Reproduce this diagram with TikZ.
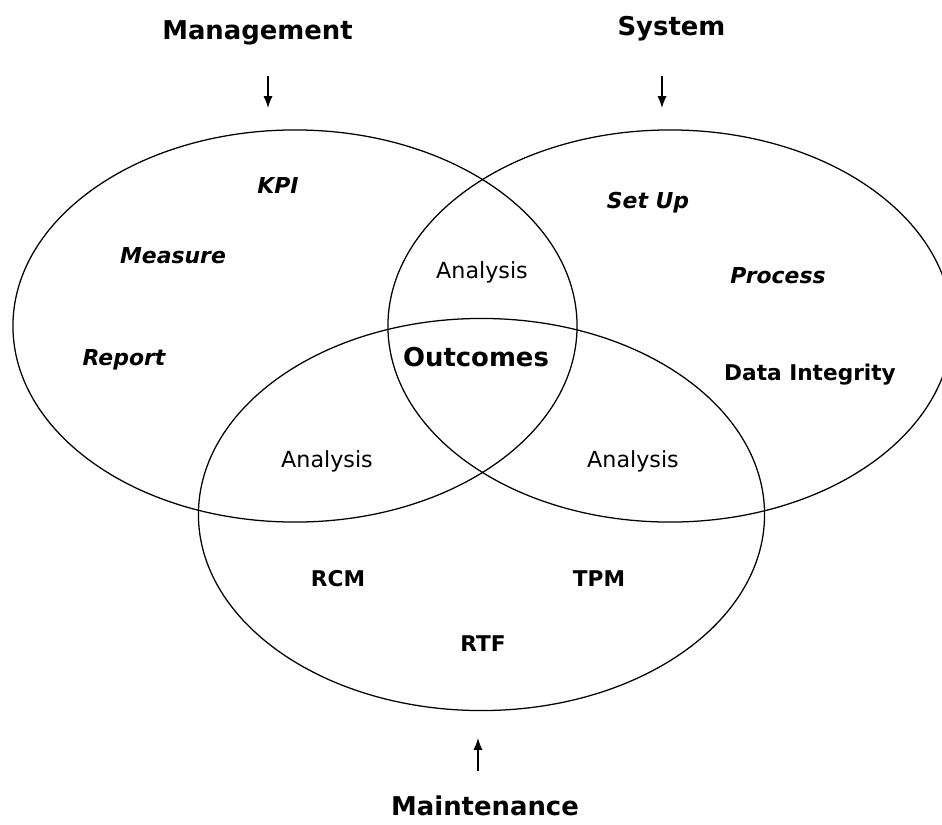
\documentclass[tikz,border=0pt]{standalone}
\usepackage{fontspec}
\setmainfont{DejaVu Sans}
\usetikzlibrary{shapes.geometric,arrows.meta}

\begin{document}
\begin{tikzpicture}[
  x=0.025cm, y=-0.025cm,
  set/.style={ellipse, draw, line width=0.9pt, minimum width=14.1cm, minimum height=9.8cm, inner sep=0pt},
  head/.style={font=\fontsize{18.4}{22}\selectfont\bfseries, anchor=base, inner sep=0pt},
  item/.style={font=\fontsize{15.6}{19}\selectfont\bfseries\itshape, anchor=base, inner sep=0pt},
  tool/.style={font=\fontsize{15.4}{19}\selectfont\bfseries, anchor=base, inner sep=0pt},
  overlap/.style={font=\fontsize{15.8}{19}\selectfont, anchor=base, inner sep=0pt},
  arrow/.style={-{Latex[length=8.5pt,width=6.5pt]}, line width=0.9pt}
]
  \useasboundingbox (0,0) rectangle (942,824);

  % the three sets
  \node[set] (mgmtset) at (295,326) {};
  \node[set] (sysset) at (670,326) {};
  \node[set, minimum width=14.15cm] (maintset) at (481.5,514.5) {};

  % headings and their arrows
  \node[head] (mgmt) at (257.5,39) {Management};
  \node[head] (sys) at (671.5,35) {System};
  \node[head] (maint) at (485,815) {Maintenance};

  \coordinate (mgmt-top) at (268,76);
  \coordinate (mgmt-tip) at (268,108);
  \coordinate (sys-top) at (662,76);
  \coordinate (sys-tip) at (662,108);
  \coordinate (maint-foot) at (478,771);
  \coordinate (maint-tip) at (478,738);

  \draw[arrow] (mgmt-top) -- (mgmt-tip);
  \draw[arrow] (sys-top) -- (sys-tip);
  \draw[arrow] (maint-foot) -- (maint-tip);

  % management
  \node[item] (kpi) at (278,193) {KPI};
  \node[item] (measure) at (173,263) {Measure};
  \node[item] (report) at (124,365) {Report};

  % system
  \node[item] (setup) at (648,208) {Set Up};
  \node[item] (process) at (778,283) {Process};
  \node[tool] (integrity) at (810,380) {Data Integrity};

  % maintenance
  \node[tool] (rcm) at (338,586) {RCM};
  \node[tool] (tpm) at (599,586) {TPM};
  \node[tool] (rtf) at (483,651) {RTF};

  % overlaps
  \node[overlap] (ana-ms) at (482,278) {Analysis};
  \node[overlap] (ana-mm) at (327,467) {Analysis};
  \node[overlap] (ana-sm) at (633,467) {Analysis};
  \node[head] (outcomes) at (476,366) {Outcomes};
\end{tikzpicture}
\end{document}
